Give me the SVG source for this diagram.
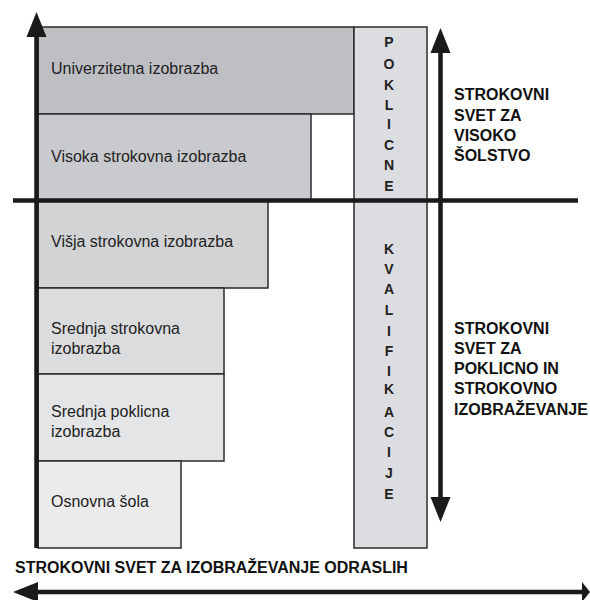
<svg xmlns="http://www.w3.org/2000/svg" width="590" height="600" viewBox="0 0 590 600">
<style>
.box{stroke:#2b2b2b;stroke-width:1.5}
.lbl{font-family:"Liberation Sans",Arial,sans-serif;font-size:16px;fill:#222}
.bold{font-family:"Liberation Sans",Arial,sans-serif;font-size:16px;font-weight:bold;fill:#111}
.vert{font-family:"Liberation Sans",Arial,sans-serif;font-size:14px;font-weight:bold;fill:#222;text-anchor:middle}
.axis{stroke:#1a1a1a;stroke-width:4.5;fill:none}
.head{fill:#1a1a1a}
</style>
<rect width="590" height="600" fill="#fff"/>
<g id="univerzitetna">
<rect class="box" x="38" y="27" width="316" height="87" fill="#bebfc2"/>
<text class="lbl" x="51" y="74">Univerzitetna izobrazba</text>
</g>
<g id="visoka">
<rect class="box" x="38" y="114" width="273" height="87" fill="#c9cacd"/>
<text class="lbl" x="51" y="162">Visoka strokovna izobrazba</text>
</g>
<g id="visja">
<rect class="box" x="38" y="201" width="230" height="87" fill="#d2d3d5"/>
<text class="lbl" x="51" y="247">Višja strokovna izobrazba</text>
</g>
<g id="srednja-strokovna">
<rect class="box" x="38" y="288" width="186" height="86" fill="#dbdcde"/>
<text class="lbl" x="51" y="334">Srednja strokovna</text>
<text class="lbl" x="51" y="354">izobrazba</text>
</g>
<g id="srednja-poklicna">
<rect class="box" x="38" y="374" width="186" height="87" fill="#e4e5e6"/>
<text class="lbl" x="51" y="417">Srednja poklicna</text>
<text class="lbl" x="51" y="437">izobrazba</text>
</g>
<g id="osnovna">
<rect class="box" x="38" y="461" width="143" height="87" fill="#ebebec"/>
<text class="lbl" x="51" y="507">Osnovna šola</text>
</g>
<g id="poklicne-kvalifikacije">
<rect class="box" x="354" y="27" width="73" height="521" fill="#dcdde0"/>
<text class="vert" x="389" y="47">P</text>
<text class="vert" x="389" y="69">O</text>
<text class="vert" x="389" y="90">K</text>
<text class="vert" x="389" y="110">L</text>
<text class="vert" x="389" y="129">I</text>
<text class="vert" x="389" y="150">C</text>
<text class="vert" x="389" y="170">N</text>
<text class="vert" x="389" y="191">E</text>
<text class="vert" x="389" y="254">K</text>
<text class="vert" x="389" y="274">V</text>
<text class="vert" x="389" y="294">A</text>
<text class="vert" x="389" y="315">L</text>
<text class="vert" x="389" y="336">I</text>
<text class="vert" x="389" y="356">F</text>
<text class="vert" x="389" y="376">I</text>
<text class="vert" x="389" y="394">K</text>
<text class="vert" x="389" y="417">A</text>
<text class="vert" x="389" y="437">C</text>
<text class="vert" x="389" y="457">I</text>
<text class="vert" x="389" y="478">J</text>
<text class="vert" x="389" y="499">E</text>
</g>
<g id="connectors">
<line class="axis" x1="36.5" y1="34" x2="36.5" y2="548"/>
<polygon class="head" points="36.5,12 26.5,37 46.5,37"/>
<line class="axis" x1="13" y1="200.5" x2="578" y2="200.5"/>
<line class="axis" x1="440.5" y1="50" x2="440.5" y2="500"/>
<polygon class="head" points="440.5,28 430.5,53 450.5,53"/>
<polygon class="head" points="440.5,522 430.5,497 450.5,497"/>
<line class="axis" x1="35" y1="592" x2="585" y2="592"/>
<polygon class="head" points="13,592 38,582 38,602"/>
<polygon class="head" points="590,592 582,582 582,602"/>
</g>
<g id="labels">
<text class="bold" x="454" y="100">STROKOVNI</text>
<text class="bold" x="454" y="121">SVET ZA</text>
<text class="bold" x="454" y="141">VISOKO</text>
<text class="bold" x="454" y="161">ŠOLSTVO</text>
<text class="bold" x="454" y="334">STROKOVNI</text>
<text class="bold" x="454" y="354">SVET ZA</text>
<text class="bold" x="454" y="374">POKLICNO IN</text>
<text class="bold" x="454" y="394">STROKOVNO</text>
<text class="bold" x="454" y="415">IZOBRAŽEVANJE</text>
<text class="bold" x="15" y="573">STROKOVNI SVET ZA IZOBRAŽEVANJE ODRASLIH</text>
</g>
</svg>
